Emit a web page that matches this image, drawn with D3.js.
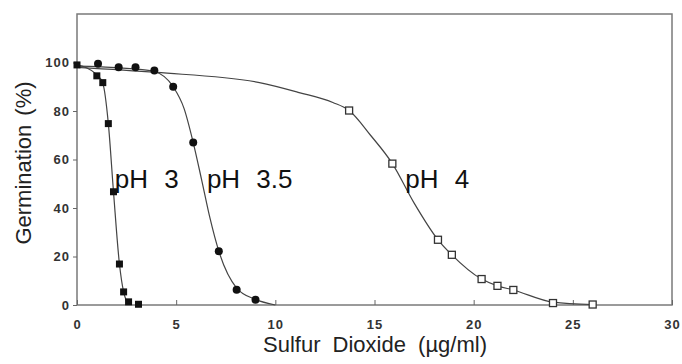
<!DOCTYPE html>
<html>
<head>
<meta charset="utf-8">
<script src="https://cdn.jsdelivr.net/npm/d3@7"></script>
<style>
  body { margin: 0; background: #fff; }
  text { font-family: "Liberation Sans", Arial, Helvetica, sans-serif; }
</style>
</head>
<body>
<div id="chart"></div>
<script>
// measured points (markers)
var ph3 = [[0, 99], [1, 94.5], [1.3, 91.7], [1.58, 74.8], [1.84, 46.7], [2.14, 16.9], [2.35, 5.4], [2.6, 1.3], [3.1, 0.3]];
var ph35 = [[1.06, 99.5], [2.1, 98], [2.95, 98], [3.9, 96.7], [4.85, 90], [5.86, 67], [7.15, 22.2], [8.05, 6.3], [9.0, 2.2]];
var ph4 = [[13.72, 80.2], [15.9, 58.3], [18.2, 26.9], [18.9, 20.7], [20.4, 10.7], [21.2, 7.9], [22, 6.2], [24, 0.8], [26, 0.2]];

// fitted curves as drawn in the figure
var ph3Curve = [[0, 99], [1, 95], [1.3, 91.5], [1.58, 74.8], [1.84, 46.7], [2.14, 16.9], [2.35, 5.4], [2.5, 1.5]];
var ph35Curve = [[0, 98.5], [1.06, 98.3], [2.1, 97.8], [2.95, 97.3], [3.9, 96.3], [4.85, 90], [5.4, 81], [5.86, 67], [6.3, 51], [6.7, 36], [7.15, 22.2], [8.05, 7], [9.0, 2.3], [10, 0]];
var ph4Curve = [[0, 98], [4, 95.9], [9.2, 91.7], [11.2, 87.6], [12.9, 83.5], [13.72, 80.2], [14.8, 70], [15.9, 58.3], [17, 42], [18.2, 26.9], [18.9, 20.7], [20.4, 10.7], [21.2, 7.9], [22, 6.2], [24, 1.2], [26, 0.2]];

var xTicks = [0, 5, 10, 15, 20, 25, 30];
var yTicks = [0, 20, 40, 60, 80, 100];

var labels = [
  {text: "pH 3", x: 1.9, y: 50},
  {text: "pH 3.5", x: 6.55, y: 50},
  {text: "pH 4", x: 16.55, y: 50}
];

var width = 682, height = 364;
var svg = d3.select("#chart").append("svg")
  .attr("width", width)
  .attr("height", height);

var x = d3.scaleLinear().domain([0, 30]).range([77, 672]);
var y = d3.scaleLinear().domain([0, 120]).range([305, 14]);

// frame
svg.append("rect")
  .attr("x", x(0)).attr("y", y(120))
  .attr("width", x(30) - x(0)).attr("height", y(0) - y(120))
  .attr("fill", "none")
  .attr("stroke", "#7a7a7a")
  .attr("stroke-width", 1.5);

// axes
var xAxis = svg.append("g")
  .attr("transform", "translate(0," + y(0) + ")")
  .call(d3.axisBottom(x).tickValues(xTicks).tickSize(-5).tickPadding(15));
var yAxis = svg.append("g")
  .attr("transform", "translate(" + x(0) + ",0)")
  .call(d3.axisLeft(y).tickValues(yTicks).tickSize(4).tickPadding(3));

[xAxis, yAxis].forEach(function(a) {
  a.select(".domain").remove();
  a.selectAll("line").attr("stroke", "#666");
  a.selectAll("text")
    .attr("font-size", 13)
    .attr("font-weight", "bold")
    .attr("letter-spacing", "1px")
    .attr("fill", "#333");
});

// curves
var line = d3.line()
  .x(function(d) { return x(d[0]); })
  .y(function(d) { return y(d[1]); })
  .curve(d3.curveMonotoneX);

[ph3Curve, ph35Curve, ph4Curve].forEach(function(c) {
  svg.append("path")
    .datum(c)
    .attr("d", line)
    .attr("fill", "none")
    .attr("stroke", "#444")
    .attr("stroke-width", 1.2);
});

// markers
svg.selectAll(".ph4").data(ph4).enter().append("rect")
  .attr("class", "ph4")
  .attr("x", function(d) { return x(d[0]) - 3.5; })
  .attr("y", function(d) { return y(d[1]) - 3.5; })
  .attr("width", 7).attr("height", 7)
  .attr("fill", "#fff")
  .attr("stroke", "#333")
  .attr("stroke-width", 1.3);

svg.selectAll(".ph35").data(ph35).enter().append("circle")
  .attr("class", "ph35")
  .attr("cx", function(d) { return x(d[0]); })
  .attr("cy", function(d) { return y(d[1]); })
  .attr("r", 4)
  .attr("fill", "#111");

svg.selectAll(".ph3").data(ph3).enter().append("rect")
  .attr("class", "ph3")
  .attr("x", function(d) { return x(d[0]) - 3.5; })
  .attr("y", function(d) { return y(d[1]) - 3.5; })
  .attr("width", 7).attr("height", 7)
  .attr("fill", "#111");

// curve labels
svg.selectAll(".lab").data(labels).enter().append("text")
  .attr("class", "lab")
  .attr("x", function(d) { return x(d.x); })
  .attr("y", function(d) { return y(d.y) + 4; })
  .attr("font-size", 26)
  .attr("word-spacing", "9px")
  .attr("fill", "#111")
  .text(function(d) { return d.text; });

// axis titles
svg.append("text")
  .attr("x", 375).attr("y", 352)
  .attr("text-anchor", "middle")
  .attr("font-size", 22)
  .attr("word-spacing", "6px")
  .attr("fill", "#222")
  .text("Sulfur Dioxide (\u00b5g/ml)");

svg.append("text")
  .attr("transform", "translate(31,163) rotate(-90)")
  .attr("text-anchor", "middle")
  .attr("font-size", 22)
  .attr("word-spacing", "3px")
  .attr("fill", "#222")
  .text("Germination (%)");
</script>
</body>
</html>
